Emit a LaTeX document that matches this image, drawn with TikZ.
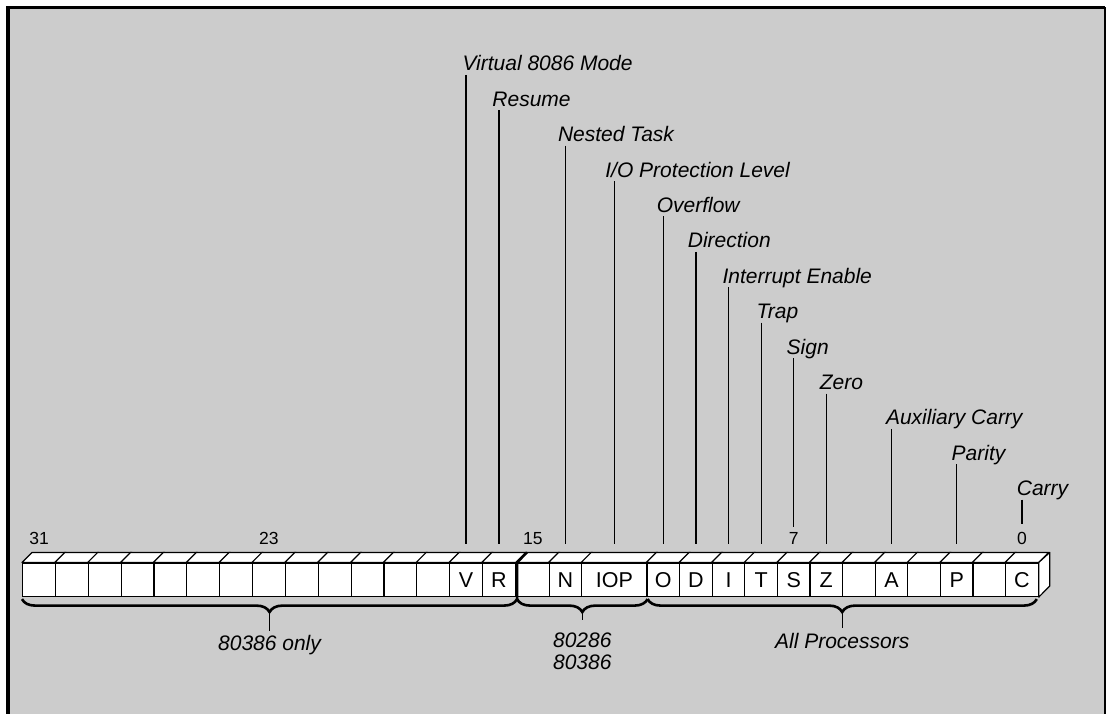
\documentclass[tikz,border=0pt]{standalone}
\usepackage{fontspec}
\setmainfont{Liberation Sans}
\usetikzlibrary{calc,decorations.pathreplacing}
\tikzset{
  bitbox/.style={draw, fill=white, line width=1.2pt, minimum height=33.5pt, inner sep=0pt,
    text height=15pt, text depth=0pt, font=\fontsize{21.5}{24}\selectfont},
  face/.style={draw, fill=white, line width=1.2pt, line join=round},
  lbl/.style={inner sep=0pt, outer sep=0pt, font=\itshape\fontsize{21}{24}\selectfont},
  num/.style={inner sep=0pt, font=\fontsize{17.5}{19}\selectfont},
  leader/.style={line width=1.2pt},
  bracestyle/.style={decorate, decoration={brace, mirror, amplitude=13pt}, line width=2.6pt},
  stem/.style={line width=1.3pt},
}
\begin{document}
\begin{tikzpicture}[x=1pt,y=-1pt]
\useasboundingbox (0,0) rectangle (1109,714);
\fill[white] (0,0) rectangle (1109,714);
\fill[black!20] (8,8) rectangle (1105,714);
\draw[line width=3.2pt] (8,714) -- (8,7.5) -- (1105,7.5);
\draw[line width=2.2pt] (1105,7.5) -- (1105,714);

% left group (15 boxes)
\foreach \k in {0,...,12}
  \node[bitbox, minimum width=32.85pt] (lb\k) at ({22.6+32.85*(\k+0.5)},579.75) {};
\node[bitbox, minimum width=32.85pt] (lb13) at ({22.6+32.85*13.5},579.75) {V};
\node[bitbox, minimum width=32.85pt] (lb14) at ({22.6+32.85*14.5},579.75) {R};

% right group (bits 15..0)
\foreach \b/\tx in {15/{},14/N,11/O,10/D,9/I,8/T,7/S,6/Z,5/{},4/A,3/{},2/P,1/{},0/C}
  \node[bitbox, minimum width=32.6pt] (rb\b) at ({516.6+32.6*(15.5-\b)},579.75) {\tx};
\node[bitbox, minimum width=65.2pt] (rbIOP) at ({516.6+32.6*3},579.75) {IOP};

% top faces
\foreach \n in {lb0,lb1,lb2,lb3,lb4,lb5,lb6,lb7,lb8,lb9,lb10,lb11,lb12,lb13,lb14,
                rb15,rb14,rbIOP,rb11,rb10,rb9,rb8,rb7,rb6,rb5,rb4,rb3,rb2,rb1,rb0}
  \filldraw[face] (\n.north west) -- ++(10,-10) -- ([shift={(10,-10)}]\n.north east)
     -- (\n.north east) -- cycle;
% right side face
\filldraw[face] (rb0.north east) -- ++(11,-10) -- ++(0,33.5) -- (rb0.south east) -- cycle;

% divider between bit 16 and bit 15
\draw[line width=2.6pt] ([shift={(11,-10)}]lb14.north east) -- ([xshift=1.1pt]lb14.north east)
   -- ([xshift=1.1pt,yshift=-3.5pt]lb14.south east);

% bit numbers
\node[num, anchor=base] (n31) at ([yshift=18pt]lb0.north) {31};
\node[num, anchor=base] (n23) at ([yshift=18pt]lb7.north) {23};
\node[num, anchor=base] (n15) at ([yshift=18pt]rb15.north) {15};
\node[num, anchor=base] (n7) at ([yshift=18pt]rb7.north) {7};
\node[num, anchor=base] (n0) at ([yshift=18pt]rb0.north) {0};

% flag labels with leaders
\foreach \bx/\nm/\tx/\ii/\off/\ey in {
  lb13/lV/{Virtual 8086 Mode}/0/-3.5/18,
  lb14/lR/{Resume}/1/-6.5/18,
  rb14/lN/{Nested Task}/2/-7.5/18,
  rbIOP/lIOP/{I/O Protection Level}/3/-9/18,
  rb11/lO/{Overflow}/4/-6.5/18,
  rb10/lD/{Direction}/5/-8/18,
  rb9/lI/{Interrupt Enable}/6/-6/18,
  rb8/lT/{Trap}/7/-4.5/18,
  rb7/lS/{Sign}/8/-7/35,
  rb6/lZ/{Zero}/9/-6.5/18,
  rb4/lA/{Auxiliary Carry}/10/-5.5/18,
  rb2/lP/{Parity}/11/-5/18,
  rb0/lC/{Carry}/12/-5/38}
{
  \path (\bx.north) ++(\off,{71.5+35.4*\ii-563}) node[lbl, anchor=base west] (\nm) {\tx};
  \draw[leader] ([yshift=-4pt]\nm.base -| \bx.north) -- ([yshift=\ey pt]\bx.north);
}

% braces
\draw[bracestyle] ([yshift=-2pt]lb0.south west) -- ([xshift=1.1pt,yshift=-2pt]lb14.south east);
\draw[bracestyle] ([xshift=1.1pt,yshift=-2pt]lb14.south east) -- ([yshift=-2pt]rbIOP.south east);
\draw[bracestyle] ([yshift=-2pt]rbIOP.south east) -- ([xshift=-2pt,yshift=-2pt]rb0.south east);
\coordinate (t1) at ($(lb0.south west)!0.5!([xshift=1.1pt]lb14.south east)+(0,15)$);
\coordinate (t2) at ($([xshift=1.1pt]lb14.south east)!0.5!(rbIOP.south east)+(0,15)$);
\coordinate (t3) at ($(rbIOP.south east)!0.5!([xshift=-2pt]rb0.south east)+(0,15)$);

\node[lbl, anchor=base] (only) at (t1 |- 0,650) {80386 only};
\node[lbl, anchor=north, align=center, font=\itshape\fontsize{21}{21.7}\selectfont] (both) at (t2 |- 0,633) {80286\\80386};
\node[lbl, anchor=base] (allp) at (t3 |- 0,648) {All Processors};

\draw[stem] (t1) -- ([yshift=4pt]only.north);
\draw[stem] (t2) -- ([yshift=13pt]both.north);
\draw[stem] (t3) -- ([yshift=5pt]allp.north);
\end{tikzpicture}
\end{document}
